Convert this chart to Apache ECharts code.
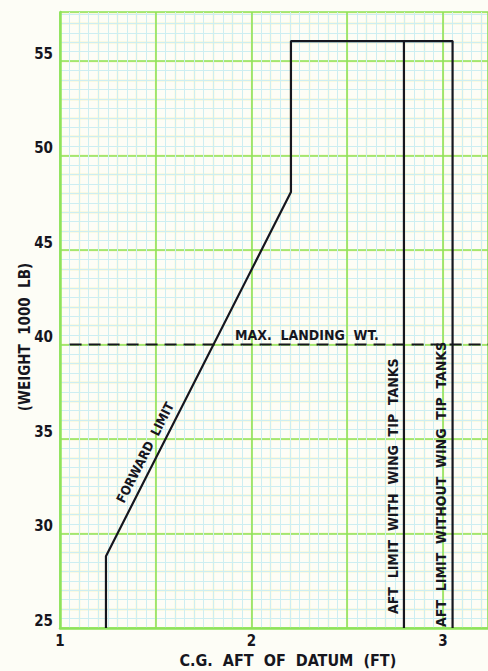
<!DOCTYPE html>
<html>
<head>
<meta charset="utf-8">
<script src="https://cdn.jsdelivr.net/npm/echarts@6/dist/echarts.min.js"></script>
<style>
html,body{margin:0;padding:0;background:#fdfdf6;overflow:hidden;width:488px;height:671px;}
#c{width:488px;height:671px;overflow:hidden;}
</style>
</head>
<body>
<div id="c"></div>
<script>
// ---- data ----
const xTickLabels = [1, 2, 3];
const yTickLabels = [25, 30, 35, 40, 45, 50, 55];
// forward limit + top + aft limit without wing tip tanks (C.G. ft, weight 1000 lb)
const envelopeX = [1.24, 1.24, 2.206, 2.206, 3.05, 3.05];
const envelopeY = [25, 28.8, 48.07, 56.06, 56.06, 25];
// aft limit with wing tip tanks
const aftWithX = [2.796, 2.796];
const aftWithY = [56.06, 25];
// max landing weight
const maxLandingX = [1.05, 3.235];
const maxLandingY = [40, 40];

const X_MIN = 1, X_MAX = 3.235, Y_MIN = 25, Y_MAX = 57.6;
const FONT = '"DejaVu Sans Condensed", "DejaVu Sans", sans-serif';
const INK = '#16161e';
const GREEN = '#8ee35a';

const chart = echarts.init(document.getElementById('c'), null, {renderer: 'svg', width: 488, height: 671});

function pairs(xs, ys) { return xs.map((x, i) => [x, ys[i]]); }

const baseAxisHidden = {
  axisLine: {show: false}, axisTick: {show: false}, axisLabel: {show: false}
};

chart.setOption({
  backgroundColor: '#fdfdf6',
  animation: false,
  grid: {left: 60, right: 0, top: 12, bottom: 43, containLabel: false, outerBoundsMode: 'none'},
  xAxis: [
    {
      type: 'value', min: X_MIN, max: X_MAX, interval: 0.5, z: 1,
      axisLine: {show: true, lineStyle: {color: GREEN, width: 2.5}},
      axisTick: {show: false},
      axisLabel: {
        margin: 5, color: INK, fontFamily: FONT, fontWeight: 'bold', fontSize: 15,
        formatter: v => xTickLabels.indexOf(Math.round(v * 1000) / 1000) >= 0 ? String(Math.round(v)) : ''
      },
      splitLine: {show: true, lineStyle: {color: GREEN, width: 1.6}},
      minorTick: {show: false, splitNumber: 10},
      minorSplitLine: {show: true, lineStyle: {color: '#cdeef2', width: 1}}
    },
    Object.assign({
      type: 'value', min: X_MIN, max: X_MAX, interval: 0.1, z: 0, position: 'bottom',
      splitLine: {show: true, lineStyle: {color: '#eef0a6', width: 1.3}}
    }, baseAxisHidden)
  ],
  yAxis: [
    {
      type: 'value', min: Y_MIN, max: Y_MAX, interval: 5, z: 1,
      axisLine: {show: true, lineStyle: {color: GREEN, width: 2.5}},
      axisTick: {show: false},
      axisLabel: {
        margin: 7, color: INK, fontFamily: FONT, fontWeight: 'bold', fontSize: 15,
        verticalAlign: 'bottom',
        formatter: v => yTickLabels.indexOf(Math.round(v * 1000) / 1000) >= 0 ? String(Math.round(v)) : ''
      },
      splitLine: {show: true, lineStyle: {color: GREEN, width: 1.6}},
      minorTick: {show: false, splitNumber: 10},
      minorSplitLine: {show: true, lineStyle: {color: '#cdeef2', width: 1}}
    },
    Object.assign({
      type: 'value', min: Y_MIN, max: Y_MAX, interval: 1, z: 0, position: 'left',
      splitLine: {show: true, lineStyle: {color: '#eef0a6', width: 1.3}}
    }, baseAxisHidden)
  ],
  series: [
    {
      type: 'line', xAxisIndex: 0, yAxisIndex: 0, z: 5,
      data: pairs(envelopeX, envelopeY), symbol: 'none',
      lineStyle: {color: INK, width: 2.2}
    },
    {
      type: 'line', xAxisIndex: 0, yAxisIndex: 0, z: 5,
      data: pairs(aftWithX, aftWithY), symbol: 'none',
      lineStyle: {color: INK, width: 2.2}
    },
    {
      type: 'line', xAxisIndex: 0, yAxisIndex: 0, z: 5,
      data: pairs(maxLandingX, maxLandingY), symbol: 'none',
      lineStyle: {color: INK, width: 2, type: [12, 7]}
    }
  ]
});

// ---- annotations, placed from data coordinates ----
const P = (x, y) => chart.convertToPixel({xAxisIndex: 0, yAxisIndex: 0}, [x, y]);
const txt = (text, pos, rot, size, align) => ({
  type: 'text', x: pos[0], y: pos[1], rotation: rot, z: 10,
  style: {text: text, fill: INK, font: 'bold ' + size + 'px ' + FONT, align: align || 'center', verticalAlign: 'middle'}
});

const a = P(envelopeX[1], envelopeY[1]);
const b = P(envelopeX[2], envelopeY[2]);
const ang = Math.atan2(a[1] - b[1], b[0] - a[0]);
const t = 0.27;
const mid = [a[0] + (b[0] - a[0]) * t, a[1] + (b[1] - a[1]) * t];
const off = 12;
const fwdPos = [mid[0] - off * Math.sin(ang), mid[1] - off * Math.cos(ang)];

const xAxisName = P(2.19, Y_MIN);
const yName = P(X_MIN, 40.4);
const ml = P(1.95, maxLandingY[0]);
const aw = P(aftWithX[0], 32.5);
const ao = P(envelopeX[4], 32.6);

chart.setOption({
  graphic: [
    txt('FORWARD  LIMIT', fwdPos, ang, 13),
    txt('MAX.  LANDING  WT.', [ml[0] - 7, ml[1] - 10], 0, 14, 'left'),
    txt('AFT  LIMIT  WITH  WING  TIP  TANKS', [aw[0] - 11, aw[1]], Math.PI / 2, 14),
    txt('AFT  LIMIT  WITHOUT  WING  TIP  TANKS', [ao[0] - 12, ao[1]], Math.PI / 2, 14),
    txt('C.G.  AFT  OF  DATUM  (FT)', [xAxisName[0], xAxisName[1] + 32], 0, 16),
    txt('(WEIGHT  1000  LB)', [yName[0] - 35, yName[1]], Math.PI / 2, 15)
  ]
});
</script>
</body>
</html>
